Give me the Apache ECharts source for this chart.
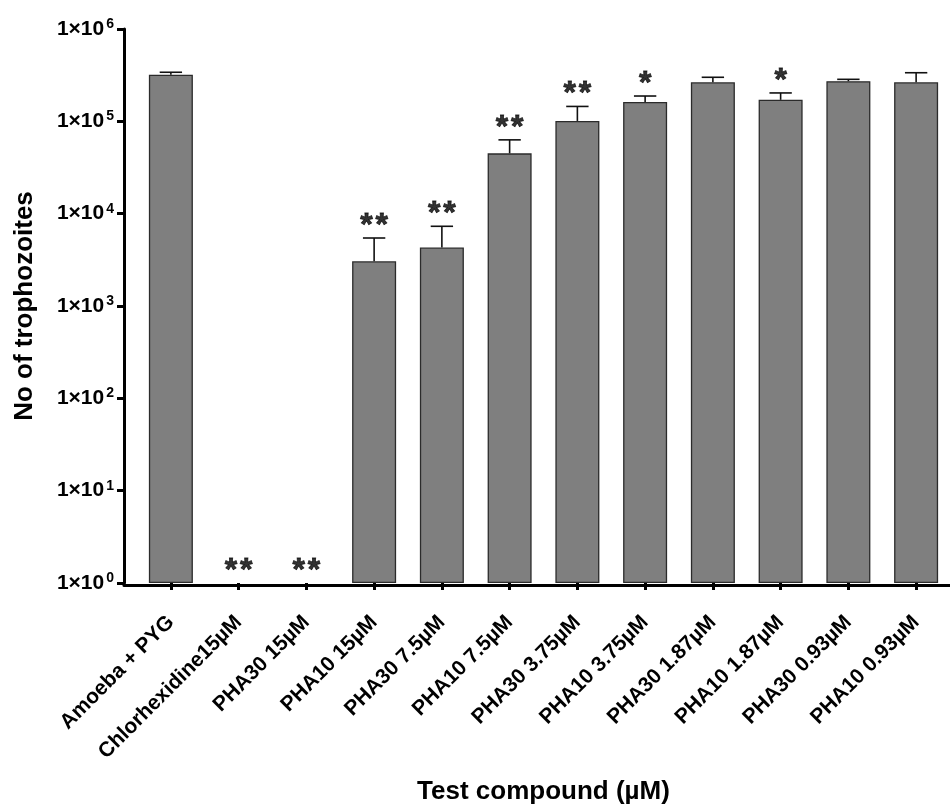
<!DOCTYPE html>
<html>
<head>
<meta charset="utf-8">
<script src="https://cdn.jsdelivr.net/npm/echarts@6/dist/echarts.min.js"></script>
<style>html,body{margin:0;padding:0;background:#fff;}#chart{width:950px;height:810px;}</style>
</head>
<body>
<div id="chart"></div>
<script>
var categories = ['Amoeba + PYG','Chlorhexidine15µM','PHA30 15µM','PHA10 15µM','PHA30 7.5µM','PHA10 7.5µM','PHA30 3.75µM','PHA10 3.75µM','PHA30 1.87µM','PHA10 1.87µM','PHA30 0.93µM','PHA10 0.93µM'];
var means = [320000, null, null, 3050, 4300, 45000, 101000, 162000, 265000, 171000, 272000, 265000];
var errTops = [340000, null, null, 5450, 7300, 63000, 145000, 188000, 300000, 203000, 285000, 336000];
var stars = ['', '**', '**', '**', '**', '**', '**', '*', '', '*', '', ''];
var yTickExponents = [0, 1, 2, 3, 4, 5, 6];

var FONT = 'Liberation Sans, Arial, sans-serif';
var chart = echarts.init(document.getElementById('chart'), null, {renderer: 'canvas'});

var barData = means.map(function (v) { return v == null ? '-' : v; });
var errData = [];
means.forEach(function (m, i) { if (m != null) errData.push([i, m, errTops[i]]); });
var starData = [];
stars.forEach(function (s, i) {
  if (s) starData.push({value: [i, errTops[i] != null ? errTops[i] : 1], star: s});
});

var option = {
  animation: false,
  grid: [
    {left: 137, right: 0, top: 29, bottom: 225},
    {left: 124, right: 0, top: 29, bottom: 225}
  ],
  xAxis: [
    {
      type: 'category', gridIndex: 0, data: categories,
      axisLine: {show: false},
      axisTick: {show: true, alignWithLabel: true, length: 7, lineStyle: {color: '#000', width: 3}},
      axisLabel: {rotate: 45, margin: 36, color: '#000', fontFamily: FONT, fontWeight: 'bold', fontSize: 21, interval: 0},
      name: 'Test compound (µM)', nameLocation: 'middle', nameGap: 196,
      nameTextStyle: {color: '#000', fontFamily: FONT, fontWeight: 'bold', fontSize: 26}
    },
    {
      type: 'value', gridIndex: 1, min: 0, max: 1,
      axisLine: {show: true, lineStyle: {color: '#000', width: 3}},
      axisTick: {show: false}, axisLabel: {show: false}, splitLine: {show: false}
    }
  ],
  yAxis: [
    {
      type: 'log', gridIndex: 0, logBase: 10, min: 1, max: 1000000, offset: 13,
      axisLine: {show: true, lineStyle: {color: '#000', width: 3}},
      axisTick: {show: true, length: 7, lineStyle: {color: '#000', width: 3}},
      splitLine: {show: false},
      axisLabel: {
        margin: 10, color: '#000',
        formatter: function (v) {
          var e = Math.round(Math.log10(v));
          if (yTickExponents.indexOf(e) < 0) return '';
          return '{a|1×10}{s|' + e + '}';
        },
        rich: {
          a: {fontFamily: FONT, fontWeight: 'bold', fontSize: 21, color: '#000', lineHeight: 24},
          s: {fontFamily: FONT, fontWeight: 'bold', fontSize: 14, color: '#000', verticalAlign: 'top', lineHeight: 24, padding: [0, 0, 8, 2]}
        }
      },
      name: 'No of trophozoites', nameLocation: 'middle', nameGap: 86, nameRotate: 90,
      nameTextStyle: {color: '#000', fontFamily: FONT, fontWeight: 'bold', fontSize: 26}
    },
    {type: 'value', gridIndex: 1, show: false}
  ],
  series: [
    {
      type: 'bar', xAxisIndex: 0, yAxisIndex: 0, data: barData, barWidth: 44,
      itemStyle: {color: '#7f7f7f', borderColor: '#2b2b2b', borderWidth: 1.3},
      z: 2
    },
    {
      type: 'custom', xAxisIndex: 0, yAxisIndex: 0, data: errData, z: 3,
      renderItem: function (params, api) {
        var x = api.value(0);
        var p0 = api.coord([x, api.value(1)]);
        var p1 = api.coord([x, api.value(2)]);
        var half = api.size([1, 0])[0] * 0.165;
        return {
          type: 'group',
          children: [
            {type: 'line', shape: {x1: p0[0], y1: p0[1], x2: p1[0], y2: p1[1]}, style: {stroke: '#111', lineWidth: 1.6}},
            {type: 'line', shape: {x1: p1[0] - half, y1: p1[1], x2: p1[0] + half, y2: p1[1]}, style: {stroke: '#111', lineWidth: 1.6}}
          ]
        };
      }
    },
    {
      type: 'scatter', xAxisIndex: 0, yAxisIndex: 0, data: starData, symbolSize: 0, z: 4,
      label: {
        show: true, position: [0, -12], align: 'center', verticalAlign: 'middle',
        formatter: function (p) { return p.data.star.split('').join('\u200A'); },
        fontFamily: FONT, fontWeight: 'bold', fontSize: 32, color: '#000',
        textBorderColor: '#000', textBorderWidth: 0.8
      }
    }
  ]
};
chart.setOption(option);
</script>
</body>
</html>
